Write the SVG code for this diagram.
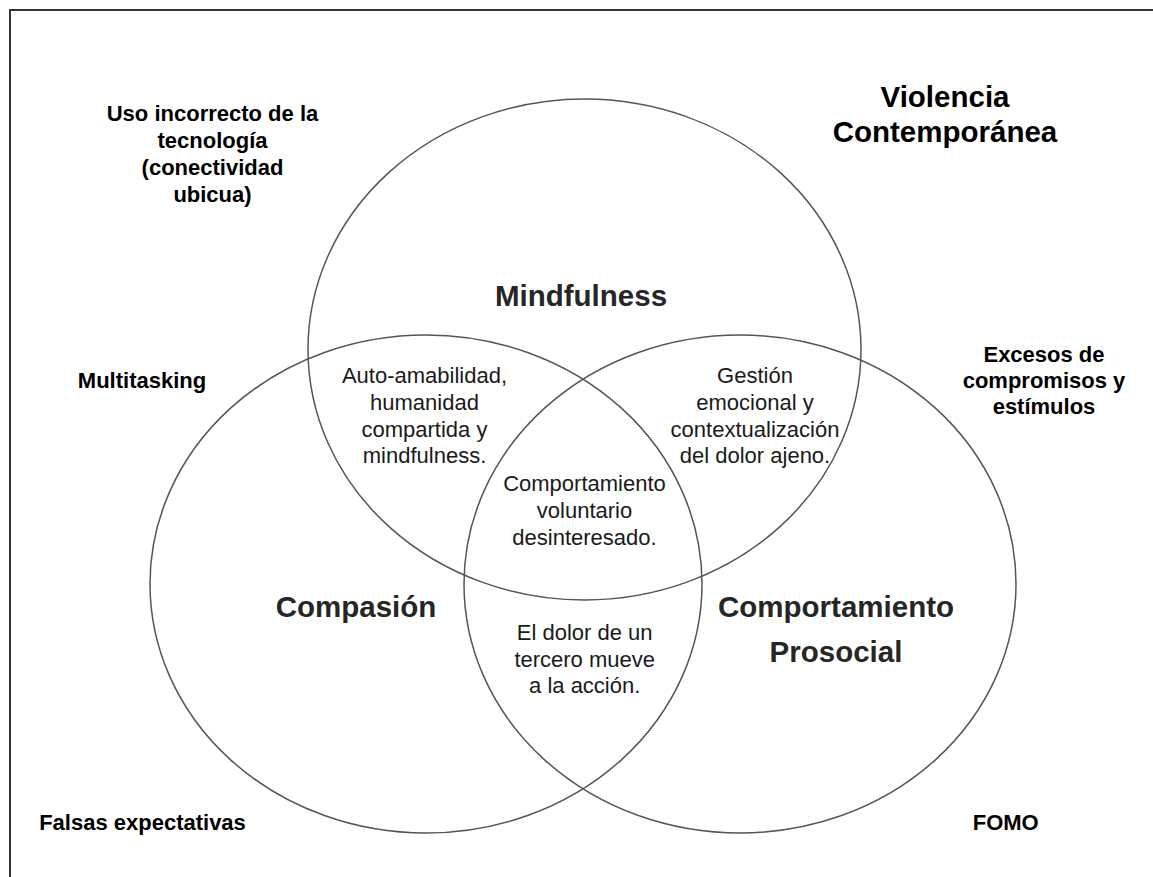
<svg xmlns="http://www.w3.org/2000/svg" width="1153" height="877" viewBox="0 0 1153 877">
  <style>
    .set { fill: none; stroke: #555; stroke-width: 1.5; }
    .title { font-family: "Liberation Sans", Arial, sans-serif; font-weight: bold; font-size: 29.5px; fill: #262626; text-anchor: middle; }
    .ext { font-family: "Liberation Sans", Arial, sans-serif; font-weight: bold; font-size: 22px; fill: #000; text-anchor: middle; }
    .ext-big { font-family: "Liberation Sans", Arial, sans-serif; font-weight: bold; font-size: 29.5px; fill: #000; text-anchor: middle; }
    .inter { font-family: "Liberation Sans", Arial, sans-serif; font-size: 22px; fill: #1a1a1a; text-anchor: middle; }
  </style>
  <rect x="0" y="0" width="1153" height="877" fill="#fff"/>
  <rect id="frame" x="10" y="10" width="1170" height="900" fill="none" stroke="#333" stroke-width="2"/>

  <g id="set-mindfulness">
    <ellipse class="set" cx="584.5" cy="349.5" rx="276.5" ry="250.5"/>
    <text class="title" x="581" y="306">Mindfulness</text>
  </g>
  <g id="set-compasion">
    <ellipse class="set" cx="426" cy="584" rx="276" ry="249"/>
    <text class="title" x="356" y="617">Compasión</text>
  </g>
  <g id="set-prosocial">
    <ellipse class="set" cx="740" cy="584" rx="276" ry="249"/>
    <text class="title" x="836" y="617">Comportamiento</text>
    <text class="title" x="836" y="662">Prosocial</text>
  </g>

  <g id="int-mind-comp">
    <text class="inter" x="424.5" y="383">Auto-amabilidad,</text>
    <text class="inter" x="424.5" y="410">humanidad</text>
    <text class="inter" x="424.5" y="437">compartida y</text>
    <text class="inter" x="424.5" y="463">mindfulness.</text>
  </g>
  <g id="int-mind-pros">
    <text class="inter" x="755" y="383">Gestión</text>
    <text class="inter" x="755" y="410">emocional y</text>
    <text class="inter" x="755" y="437">contextualización</text>
    <text class="inter" x="755" y="463">del dolor ajeno.</text>
  </g>
  <g id="int-all">
    <text class="inter" x="584.5" y="491">Comportamiento</text>
    <text class="inter" x="584.5" y="518">voluntario</text>
    <text class="inter" x="584.5" y="545">desinteresado.</text>
  </g>
  <g id="int-comp-pros">
    <text class="inter" x="584.7" y="640">El dolor de un</text>
    <text class="inter" x="584.7" y="667">tercero mueve</text>
    <text class="inter" x="584.7" y="693">a la acción.</text>
  </g>

  <g id="ext-tecnologia">
    <text class="ext" x="212.5" y="121">Uso incorrecto de la</text>
    <text class="ext" x="212.5" y="148">tecnología</text>
    <text class="ext" x="212.5" y="175">(conectividad</text>
    <text class="ext" x="212.5" y="202">ubicua)</text>
  </g>
  <g id="ext-violencia">
    <text class="ext-big" x="945" y="107">Violencia</text>
    <text class="ext-big" x="945" y="142">Contemporánea</text>
  </g>
  <g id="ext-multitasking">
    <text class="ext" x="142" y="388">Multitasking</text>
  </g>
  <g id="ext-excesos">
    <text class="ext" x="1044" y="362">Excesos de</text>
    <text class="ext" x="1044" y="388">compromisos y</text>
    <text class="ext" x="1044" y="414">estímulos</text>
  </g>
  <g id="ext-falsas">
    <text class="ext" x="142.5" y="830">Falsas expectativas</text>
  </g>
  <g id="ext-fomo">
    <text class="ext" x="1005.7" y="830">FOMO</text>
  </g>
</svg>
